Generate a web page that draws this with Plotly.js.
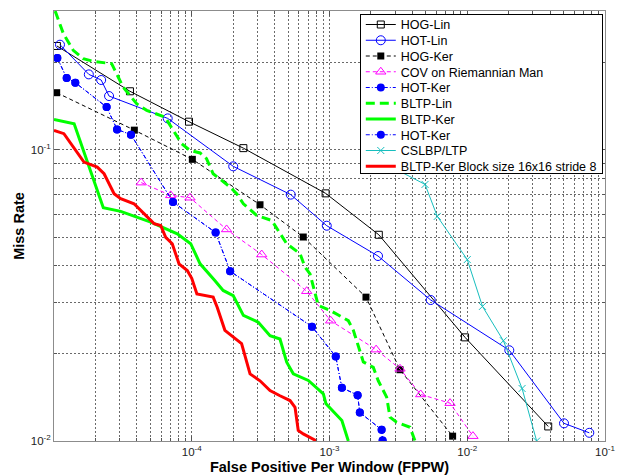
<!DOCTYPE html>
<html>
<head>
<meta charset="utf-8">
<script src="https://cdn.plot.ly/plotly-3.0.1.min.js"></script>
<style>html,body{margin:0;padding:0;background:#fff;}#chart{width:628px;height:475px;}</style>
</head>
<body>
<div id="chart"></div>
<script>
// ---- data (FPPW vs miss rate) ----
const hogLinX = [1.05e-5, 3.56e-5, 9.55e-5, 2.37e-4, 9.37e-4, 2.28e-3, 9.64e-3, 3.87e-2];
const hogLinY = [0.2275, 0.159, 0.125, 0.1014, 0.0709, 0.0511, 0.0227, 0.01122];

const hotLinX = [1.105e-5, 1.79e-5, 2.20e-5, 2.51e-5, 6.69e-5, 2.00e-4, 5.23e-4, 9.55e-4, 2.25e-3, 5.43e-3, 2.02e-2, 5.04e-2, 7.69e-2];
const hotLinY = [0.2298, 0.1817, 0.1738, 0.1531, 0.1283, 0.0878, 0.0702, 0.0549, 0.0432, 0.0305, 0.0205, 0.0115, 0.01067];

const hogKerX = [1.046e-5, 3.83e-5, 1.01e-4, 3.13e-4, 6.45e-4, 1.84e-3, 3.25e-3, 7.83e-3];
const hogKerY = [0.1572, 0.1169, 0.0928, 0.0648, 0.0502, 0.0312, 0.01757, 0.01039];

const covX = [4.30e-5, 7.03e-5, 9.71e-5, 1.79e-4, 3.22e-4, 6.83e-4, 1.02e-3, 2.18e-3, 3.25e-3, 4.59e-3, 7.50e-3, 1.10e-2];
const covY = [0.0772, 0.0698, 0.0685, 0.0533, 0.0437, 0.0327, 0.0259, 0.0206, 0.0177, 0.01445, 0.01349, 0.01039];

const hotKerX = [1.057e-5, 1.236e-5, 1.428e-5, 2.41e-5, 2.87e-5, 3.62e-5, 7.31e-5, 1.49e-4, 1.90e-4, 7.46e-4, 1.11e-3, 1.23e-3, 1.60e-3, 1.66e-3, 2.39e-3, 2.43e-3];
const hotKerY = [0.2068, 0.1765, 0.1702, 0.1403, 0.1176, 0.1128, 0.0662, 0.0520, 0.0383, 0.0247, 0.0195, 0.01524, 0.01437, 0.01253, 0.01093, 0.01004];

const bltpLinX = [1.02e-5, 1.17e-5, 1.38e-5, 1.63e-5, 1.93e-5, 2.62e-5, 2.77e-5, 3.18e-5, 3.98e-5, 4.71e-5, 6.39e-5, 7.35e-5, 8.45e-5, 9.71e-5, 1.15e-4, 1.28e-4, 1.43e-4, 1.90e-4, 2.12e-4, 2.37e-4, 2.96e-4, 3.81e-4, 4.37e-4, 4.89e-4, 6.11e-4, 6.64e-4, 7.22e-4, 8.29e-4, 1.01e-3, 1.37e-3, 1.49e-3, 1.66e-3, 1.76e-3, 2.08e-3, 2.26e-3, 2.60e-3, 2.75e-3, 3.07e-3, 3.84e-3, 4.18e-3];
const bltpLinY = [0.300, 0.2507, 0.2197, 0.2058, 0.2014, 0.1978, 0.1876, 0.1643, 0.1441, 0.1367, 0.1296, 0.1167, 0.1050, 0.0996, 0.0976, 0.0933, 0.0828, 0.0745, 0.0707, 0.0653, 0.0596, 0.0572, 0.0515, 0.0476, 0.0440, 0.0396, 0.0375, 0.0292, 0.0281, 0.0259, 0.0240, 0.0205, 0.0187, 0.0179, 0.0161, 0.01415, 0.01207, 0.01160, 0.01115, 0.0100];

const bltpKerX = [1.00e-5, 1.40e-5, 2.28e-5, 3.05e-5, 5.04e-5, 6.65e-5, 7.85e-5, 9.83e-5, 1.15e-4, 1.47e-4, 1.69e-4, 2.00e-4, 2.37e-4, 3.04e-4, 3.70e-4, 4.37e-4, 4.89e-4, 5.46e-4, 7.02e-4, 9.02e-4, 9.43e-4, 1.23e-3, 1.33e-3, 1.37e-3];
const bltpKerY = [0.1273, 0.1230, 0.0633, 0.0615, 0.0565, 0.0532, 0.0515, 0.0476, 0.0406, 0.0356, 0.0329, 0.0316, 0.0270, 0.0256, 0.0230, 0.0224, 0.01866, 0.01702, 0.01614, 0.01453, 0.01342, 0.01176, 0.01058, 0.0100];

const csX = [1.84e-3, 4.94e-3, 6.06e-3, 1.00e-2, 1.29e-2, 1.83e-2, 2.50e-2, 3.19e-2];
const csY = [0.0970, 0.0761, 0.0591, 0.0420, 0.0290, 0.0221, 0.01515, 0.0100];

const blockX = [1.00e-5, 1.18e-5, 1.65e-5, 2.06e-5, 2.31e-5, 2.73e-5, 3.05e-5, 3.81e-5, 4.50e-5, 5.32e-5, 5.95e-5, 6.47e-5, 7.22e-5, 8.08e-5, 9.28e-5, 1.00e-4, 1.09e-4, 1.43e-4, 1.53e-4, 1.74e-4, 2.30e-4, 2.44e-4, 2.65e-4, 3.13e-4, 3.70e-4, 4.37e-4, 5.17e-4, 5.62e-4, 5.93e-4, 6.45e-4, 8.07e-4];
const blockY = [0.1167, 0.1137, 0.0908, 0.0873, 0.0828, 0.0707, 0.0680, 0.0653, 0.0604, 0.0558, 0.0550, 0.0501, 0.0476, 0.0406, 0.0385, 0.0362, 0.0320, 0.0312, 0.0288, 0.0240, 0.0216, 0.0194, 0.0170, 0.0161, 0.0149, 0.0143, 0.01377, 0.01306, 0.01087, 0.01058, 0.0100];

const names = ['HOG-Lin', 'HOT-Lin', 'HOG-Ker', 'COV on Riemannian Man', 'HOT-Ker', 'BLTP-Lin', 'BLTP-Ker', 'HOT-Ker', 'CSLBP/LTP', 'BLTP-Ker Block size 16x16 stride 8'];
const xTickVals = [1e-4, 1e-3, 1e-2, 1e-1];
const xTickText = ['10<sup>-4</sup>', '10<sup>-3</sup>', '10<sup>-2</sup>', '10<sup>-1</sup>'];
const yTickVals = [1e-2, 1e-1];
const yTickText = ['10<sup>-2</sup>', '10<sup>-1</sup>'];
const xTitle = 'False Positive Per Window (FPPW)';
const yTitle = 'Miss Rate';

const BLUE = '#0000ff', GREEN = '#00ff00', MAG = '#ff00ff', CYAN = '#17bebe', RED = '#ff0000', BLACK = '#000000';
const FONT = 'Liberation Sans, Arial, sans-serif';

const traces = [
  {x: hogLinX, y: hogLinY, name: names[0], mode: 'lines+markers',
   line: {color: BLACK, width: 1}, marker: {symbol: 'square-open', size: 7, color: BLACK, line: {width: 1}}},
  {x: hotLinX, y: hotLinY, name: names[1], mode: 'lines+markers',
   line: {color: BLUE, width: 1}, marker: {symbol: 'circle-open', size: 9, color: BLUE, line: {width: 1}}},
  {x: hogKerX, y: hogKerY, name: names[2], mode: 'lines+markers',
   line: {color: BLACK, width: 1, dash: '4px,3px'}, marker: {symbol: 'square', size: 7, color: BLACK}},
  {x: covX, y: covY, name: names[3], mode: 'lines+markers',
   line: {color: MAG, width: 1, dash: '4px,3px'}, marker: {symbol: 'triangle-up-open', size: 9, color: MAG, line: {width: 1}}},
  {x: hotKerX, y: hotKerY, name: names[4], mode: 'lines+markers',
   line: {color: BLUE, width: 1, dash: '4px,2px,1px,2px'}, marker: {symbol: 'circle', size: 8, color: BLUE}},
  {x: bltpLinX, y: bltpLinY, name: names[5], mode: 'lines',
   line: {color: GREEN, width: 3, dash: '9px,5px'}},
  {x: bltpKerX, y: bltpKerY, name: names[6], mode: 'lines',
   line: {color: GREEN, width: 3}},
  {x: hotKerX, y: hotKerY, name: names[7], mode: 'lines+markers',
   line: {color: BLUE, width: 1, dash: '4px,2px,1px,2px'}, marker: {symbol: 'circle', size: 8, color: BLUE}},
  {x: csX, y: csY, name: names[8], mode: 'lines+markers',
   line: {color: CYAN, width: 1}, marker: {symbol: 'x-thin-open', size: 7, color: CYAN, line: {width: 1, color: CYAN}}},
  {x: blockX, y: blockY, name: names[9], mode: 'lines',
   line: {color: RED, width: 3}}
];
traces.forEach(t => { t.type = 'scatter'; t.hoverinfo = 'skip'; });

const gridCol = '#6a6a6a';
function axisBase() {
  return {
    type: 'log', tickmode: 'array',
    showline: true, linecolor: '#8c8c8c', linewidth: 1, mirror: 'ticks',
    ticks: 'inside', ticklen: 5, tickcolor: '#555', tickwidth: 1,
    showgrid: true, gridcolor: gridCol, griddash: '2px,2px', gridwidth: 1,
    minor: {tickmode: 'linear', dtick: 'D1', ticks: 'inside', ticklen: 3, tickcolor: '#555',
            showgrid: true, gridcolor: gridCol, griddash: '2px,2px', gridwidth: 1},
    zeroline: false,
    tickfont: {family: FONT, size: 11.5, color: '#222'}
  };
}

const layout = {
  width: 628, height: 475,
  margin: {l: 54, r: 23, t: 11, b: 34},
  paper_bgcolor: '#ffffff', plot_bgcolor: '#ffffff',
  showlegend: true,
  xaxis: Object.assign(axisBase(), {
    range: [-5, -1], tickvals: xTickVals, ticktext: xTickText,
    title: {text: xTitle, standoff: 9, font: {family: FONT, size: 14.5, color: '#000', weight: 'bold'}}
  }),
  yaxis: Object.assign(axisBase(), {
    range: [-2, Math.log10(0.3)], tickvals: yTickVals, ticktext: yTickText,
    title: {text: yTitle, standoff: 2, font: {family: FONT, size: 14.5, color: '#000', weight: 'bold'}}
  }),
  legend: {
    x: 0.996, y: 0.993, xanchor: 'right', yanchor: 'top',
    bgcolor: '#ffffff', bordercolor: '#000000', borderwidth: 1,
    font: {family: FONT, size: 12.5, color: '#000'},
    itemwidth: 30, tracegroupgap: 0
  }
};

Plotly.newPlot('chart', traces, layout, {staticPlot: true, displayModeBar: false}).then(function (gd) {
  // tighten legend rows to match the reference: first row 10 px below the top,
  // 15.75 px per row, 7 px below the last row
  const leg = gd.querySelector('.legend');
  if (!leg) return;
  const items = leg.querySelectorAll('.traces');
  if (!items.length) return;
  const parse = el => {
    const m = /translate\(\s*([-\d.e]+)[ ,]+([-\d.e]+)\s*\)/.exec(el.getAttribute('transform') || '');
    return m ? [parseFloat(m[1]), parseFloat(m[2])] : null;
  };
  const bg = leg.querySelector('rect.bg');
  const bgY = bg ? (parseFloat(bg.getAttribute('y')) || 0) : 0;
  const step = 15.75, top = 10, bottom = 7;
  items.forEach((g, i) => {
    const p = parse(g);
    if (p) g.setAttribute('transform', 'translate(' + p[0] + ',' + (bgY + top + i * step) + ')');
  });
  const newH = top + (items.length - 1) * step + bottom;
  leg.querySelectorAll('rect.bg').forEach(r => r.setAttribute('height', newH));
});
</script>
</body>
</html>
